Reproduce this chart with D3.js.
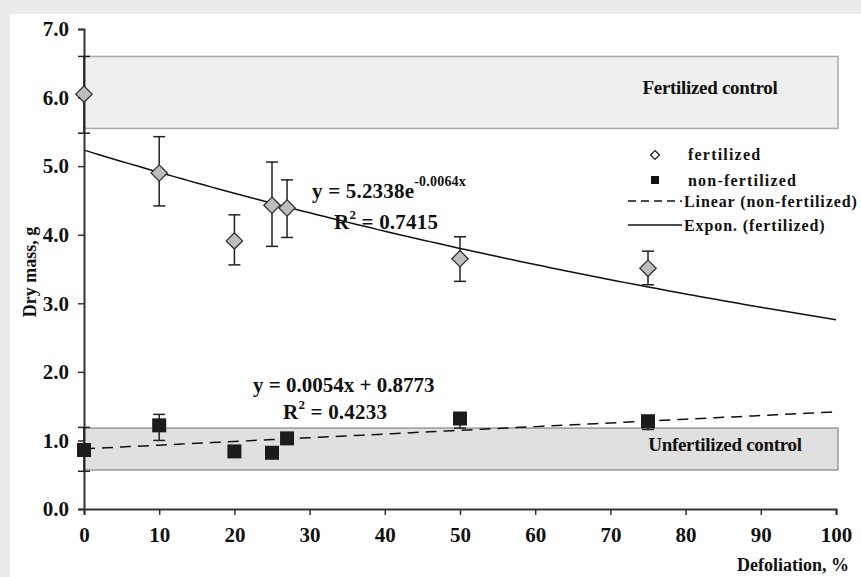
<!DOCTYPE html>
<html>
<head>
<meta charset="utf-8">
<script src="https://cdn.jsdelivr.net/npm/d3@7"></script>
<style>
  body { margin: 0; background: #ebebeb; }
  svg { display: block; }
  text { font-family: "Liberation Serif", "Times New Roman", serif; font-weight: bold; fill: #111; }
</style>
</head>
<body>
<div id="chart"></div>
<script>
// defoliation levels, %
const defol = [0, 10, 20, 25, 27, 50, 75];
// fertilized means and error bar ends
const fertMean = [6.05, 4.9, 3.91, 4.43, 4.39, 3.65, 3.51];
const fertLo = [5.48, 4.42, 3.56, 3.83, 3.96, 3.32, 3.27];
const fertHi = [6.6, 5.43, 4.29, 5.06, 4.8, 3.97, 3.76];
// non-fertilized means and error bar ends
const nonMean = [0.86, 1.22, 0.84, 0.82, 1.03, 1.32, 1.28];
const nonLo = [0.55, 1.0, 0.84, 0.82, 1.03, 1.18, 1.16];
const nonHi = [1.19, 1.38, 0.84, 0.82, 1.03, 1.38, 1.33];
// control bands [low, high]
const fertControl = [5.55, 6.6];
const unfertControl = [0.57, 1.18];
const xTicks = [0, 10, 20, 30, 40, 50, 60, 70, 80, 90, 100];
const yTicks = [0, 1, 2, 3, 4, 5, 6, 7];
// trend line coefficients
const expA = 5.2338, expB = -0.0064;
const linA = 0.0054, linB = 0.8773;

const W = 861, H = 577;
const svg = d3.select("#chart").append("svg").attr("width", W).attr("height", H);

svg.append("rect").attr("x", 10).attr("y", 14).attr("width", W - 10).attr("height", H - 14).attr("fill", "#fff");

const x = d3.scaleLinear().domain([0, 100]).range([84, 836]);
const y = d3.scaleLinear().domain([0, 7]).range([509, 29]);

// control bands
svg.append("rect")
  .attr("x", x(0)).attr("width", 838 - x(0))
  .attr("y", y(fertControl[1])).attr("height", y(fertControl[0]) - y(fertControl[1]))
  .attr("fill", "#efefef").attr("stroke", "#a8a8a8").attr("stroke-width", 1.5);
svg.append("rect")
  .attr("x", x(0)).attr("width", 838 - x(0))
  .attr("y", y(unfertControl[1])).attr("height", y(unfertControl[0]) - y(unfertControl[1]))
  .attr("fill", "#e0e0e0").attr("stroke", "#9a9a9a").attr("stroke-width", 1.5);

svg.append("text").attr("x", 710).attr("y", 94).attr("text-anchor", "middle")
  .style("font-size", "19px").style("letter-spacing", "-0.3px").text("Fertilized control");
svg.append("text").attr("x", 725).attr("y", 451).attr("text-anchor", "middle")
  .style("font-size", "19px").style("letter-spacing", "-0.3px").text("Unfertilized control");

// trend lines
const xs = d3.range(0, 101, 1);
svg.append("path")
  .datum(xs)
  .attr("fill", "none").attr("stroke", "#111").attr("stroke-width", 1.5)
  .attr("d", d3.line().x(d => x(d)).y(d => y(expA * Math.exp(expB * d))));
svg.append("path")
  .datum(xs)
  .attr("fill", "none").attr("stroke", "#111").attr("stroke-width", 1.5)
  .attr("stroke-dasharray", "11,7")
  .attr("d", d3.line().x(d => x(d)).y(d => y(linA * d + linB)));

// axes
const yAxis = svg.append("g").attr("transform", "translate(" + x(0) + ",0)")
  .call(d3.axisLeft(y).tickValues(yTicks).tickFormat(d3.format(".1f")).tickSize(6).tickPadding(9));
const xAxis = svg.append("g").attr("transform", "translate(0," + y(0) + ")")
  .call(d3.axisBottom(x).tickValues(xTicks).tickSize(6).tickPadding(12));
[xAxis, yAxis].forEach(g => {
  g.select(".domain").attr("stroke", "#333").attr("stroke-width", 2);
  g.selectAll(".tick line").attr("stroke", "#333").attr("stroke-width", 1.5);
  g.selectAll(".tick text").style("font-size", "21px").style("font-family", "Liberation Serif, serif")
    .style("font-weight", "bold").attr("fill", "#111");
});

// error bars
function errorBars(lo, hi, color) {
  const g = svg.append("g").attr("stroke", color).attr("stroke-width", 1.5);
  defol.forEach((d, i) => {
    if (hi[i] - lo[i] < 0.01) return;
    g.append("line").attr("x1", x(d)).attr("x2", x(d)).attr("y1", y(lo[i])).attr("y2", y(hi[i]));
    [lo[i], hi[i]].forEach(v => {
      g.append("line").attr("x1", x(d) - 6).attr("x2", x(d) + 6).attr("y1", y(v)).attr("y2", y(v));
    });
  });
}
errorBars(fertLo, fertHi, "#222");
errorBars(nonLo, nonHi, "#222");

// fertilized diamonds
const diamond = d3.symbol().type(d3.symbolDiamond2).size(170);
svg.append("g").selectAll("path")
  .data(defol)
  .join("path")
  .attr("transform", (d, i) => "translate(" + x(d) + "," + y(fertMean[i]) + ")")
  .attr("d", diamond)
  .attr("fill", "#bdbdbd").attr("stroke", "#333").attr("stroke-width", 1.3);

// non-fertilized squares
svg.append("g").selectAll("rect")
  .data(defol)
  .join("rect")
  .attr("x", d => x(d) - 7).attr("y", (d, i) => y(nonMean[i]) - 7)
  .attr("width", 14).attr("height", 14)
  .attr("fill", "#1c1c1c");

// equations
const eq1 = svg.append("text").attr("x", 312).attr("y", 198).style("font-size", "21px").style("letter-spacing", "0.2px");
eq1.append("tspan").text("y = 5.2338e");
eq1.append("tspan").attr("dy", -12).style("font-size", "14px").text("-0.0064x");
const r1 = svg.append("text").attr("x", 334).attr("y", 229).style("font-size", "21px").style("letter-spacing", "0.2px");
r1.append("tspan").text("R");
r1.append("tspan").attr("dy", -10).style("font-size", "13px").text("2");
r1.append("tspan").attr("dy", 10).text(" = 0.7415");

svg.append("text").attr("x", 253).attr("y", 392).style("font-size", "21px")
  .text("y = 0.0054x + 0.8773");
const r2 = svg.append("text").attr("x", 283).attr("y", 419).style("font-size", "21px").style("letter-spacing", "0.2px");
r2.append("tspan").text("R");
r2.append("tspan").attr("dy", -10).style("font-size", "13px").text("2");
r2.append("tspan").attr("dy", 10).text(" = 0.4233");

// legend
const lg = svg.append("g");
lg.append("path").attr("transform", "translate(655,155)")
  .attr("d", d3.symbol().type(d3.symbolDiamond2).size(50))
  .attr("fill", "#fff").attr("stroke", "#222").attr("stroke-width", 1.3);
lg.append("rect").attr("x", 651).attr("y", 176).attr("width", 8).attr("height", 8).attr("fill", "#111");
lg.append("line").attr("x1", 628).attr("x2", 682).attr("y1", 201).attr("y2", 201)
  .attr("stroke", "#111").attr("stroke-width", 1.5).attr("stroke-dasharray", "8,5");
lg.append("line").attr("x1", 628).attr("x2", 682).attr("y1", 225).attr("y2", 225)
  .attr("stroke", "#111").attr("stroke-width", 1.3);
const legendItems = [["fertilized", 688, 160], ["non-fertilized", 688, 186],
  ["Linear (non-fertilized)", 684, 207], ["Expon. (fertilized)", 684, 231]];
legendItems.forEach(t => {
  lg.append("text").attr("x", t[1]).attr("y", t[2]).style("font-size", "16px")
    .style("letter-spacing", t[0].length < 15 ? "1.2px" : "0.9px").text(t[0]);
});

// axis titles
svg.append("text").attr("transform", "translate(36,272) rotate(-90)")
  .attr("text-anchor", "middle").style("font-size", "18px").text("Dry mass, g");
svg.append("text").attr("x", 849).attr("y", 571).attr("text-anchor", "end")
  .style("font-size", "18px").text("Defoliation, %");
</script>
</body>
</html>
